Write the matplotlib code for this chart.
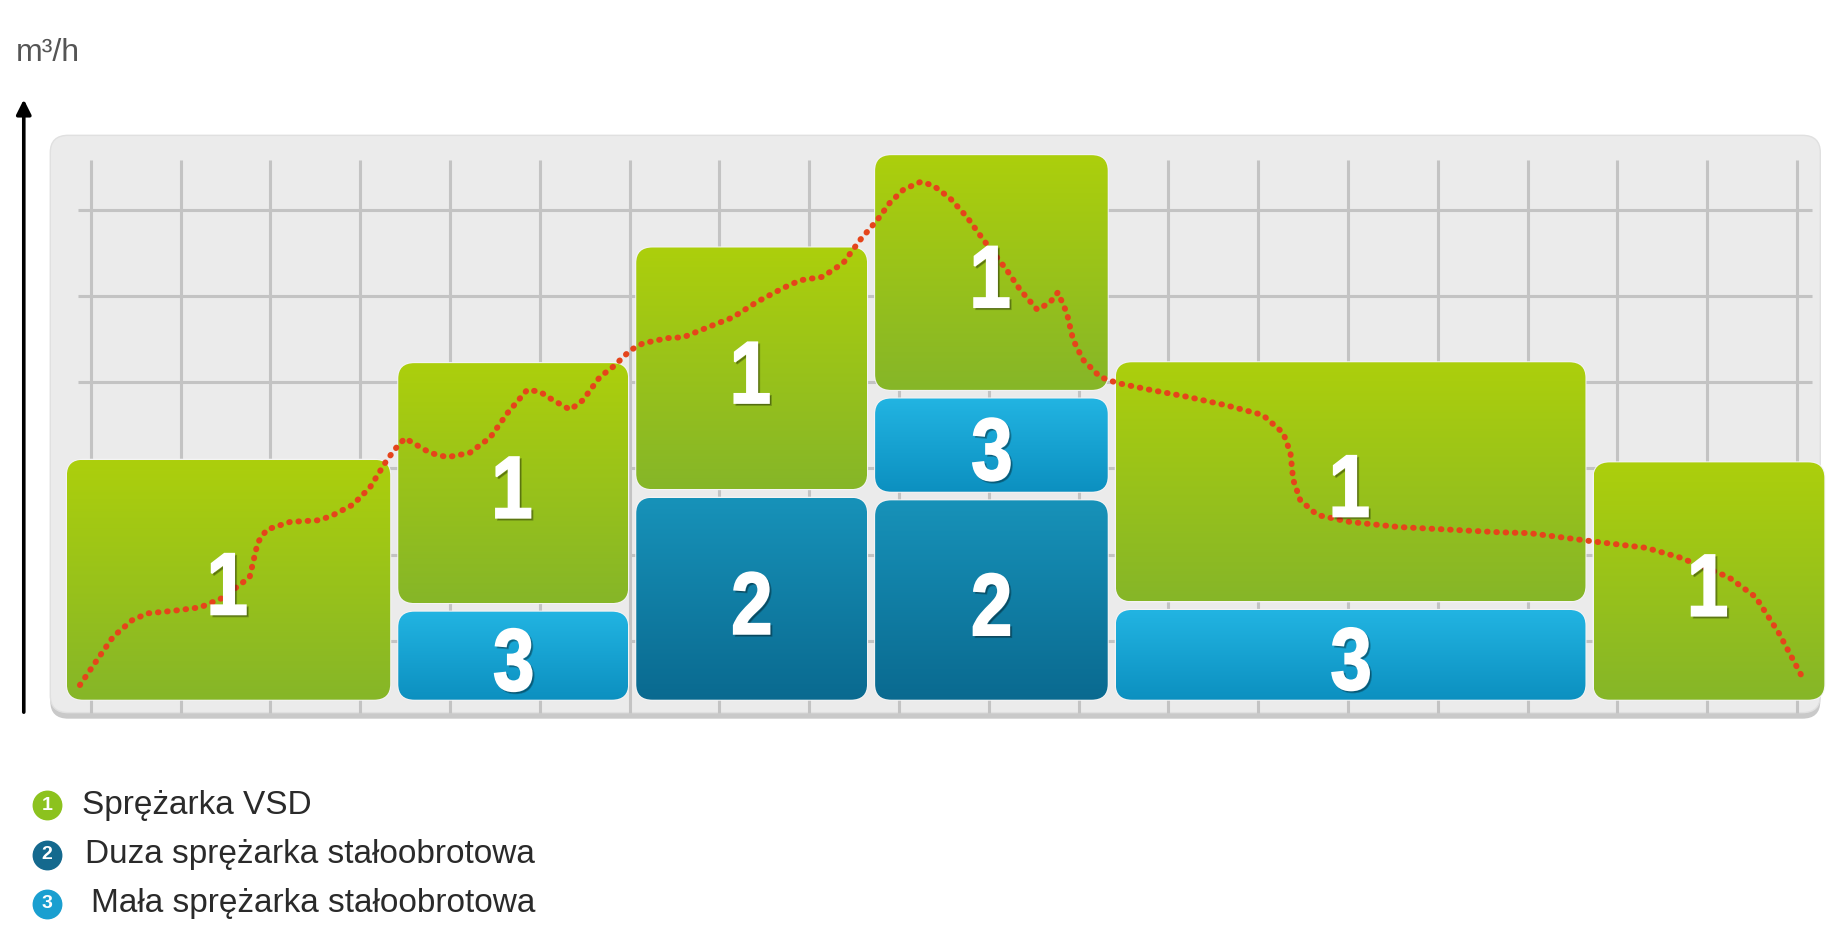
import matplotlib
matplotlib.use("Agg")
import matplotlib.pyplot as plt
import numpy as np
from matplotlib.patches import FancyBboxPatch, PathPatch
from matplotlib.colors import to_rgb
from matplotlib.textpath import TextPath
from matplotlib.font_manager import FontProperties
import matplotlib.transforms as mtransforms

# ---- data (time in grid cells, flow in grid units) ----
seg_start = [-0.31, 3.38, 6.03, 8.69, 11.37, 16.69]
seg_end = [3.38, 6.03, 8.69, 11.37, 16.69, 19.35]
large_fixed = [0, 0, 2.44, 2.41, 0, 0]        # "2"
small_fixed = [0, 1.12, 0, 1.18, 1.14, 0]     # "3"
vsd = [2.88, 2.88, 2.90, 2.82, 2.87, 2.85]    # "1"

demand_t = [-0.12, 0.07, 0.25, 0.46, 0.63, 0.92, 1.22, 1.47, 1.77, 1.86, 1.96, 2.22,
            2.55, 2.70, 2.92, 3.11, 3.30, 3.41, 3.50, 3.78, 3.97, 4.22, 4.45, 4.64,
            4.86, 5.00, 5.15, 5.34, 5.48, 5.67, 5.82, 6.01, 6.15, 6.42, 6.60, 6.93,
            7.15, 7.42, 7.71, 7.90, 8.15, 8.38, 8.57, 8.76, 8.90, 9.05, 9.24, 9.38,
            9.57, 9.76, 9.94, 10.20, 10.35, 10.54, 10.68, 10.77, 10.87, 10.94, 11.05,
            11.24, 11.43, 11.80, 12.21, 12.65, 13.05, 13.28, 13.36, 13.39, 13.47,
            13.66, 14.02, 14.58, 15.14, 15.69, 16.02, 16.76, 17.32, 17.69, 18.24,
            18.54, 18.80, 19.06]
demand_q = [0.22, 0.51, 0.78, 0.97, 1.05, 1.08, 1.12, 1.23, 1.47, 1.87, 2.02, 2.11,
            2.13, 2.19, 2.31, 2.51, 2.83, 2.98, 3.08, 2.91, 2.86, 2.91, 3.09, 3.37,
            3.64, 3.62, 3.52, 3.41, 3.52, 3.79, 3.91, 4.10, 4.18, 4.24, 4.25, 4.39,
            4.48, 4.66, 4.82, 4.91, 4.95, 5.11, 5.38, 5.61, 5.81, 5.96, 6.05, 6.01,
            5.86, 5.64, 5.38, 5.03, 4.80, 4.57, 4.65, 4.77, 4.53, 4.22, 3.99,
            3.79, 3.72, 3.64, 3.56, 3.46, 3.35, 3.14, 2.91, 2.60, 2.36,
            2.19, 2.11, 2.05, 2.02, 1.99, 1.98, 1.88, 1.81, 1.70, 1.47,
            1.24, 0.82, 0.31]

legend_labels = ["Sprężarka VSD", "Duza sprężarka stałoobrotowa", "Mała sprężarka stałoobrotowa"]
legend_nums = ["1", "2", "3"]
unit_label = "m³/h"

# colours (top, bottom) for each compressor type
colors = {
    "1": ("#accf0c", "#86b628"),
    "2": ("#1792b9", "#0a6a90"),
    "3": ("#22b4e2", "#0c90c0"),
}
legend_colors = ["#8cc21e", "#14698e", "#1a9fd0"]

fig = plt.figure(figsize=(18.29, 9.39), dpi=100)
ax = fig.add_axes([0, 0, 1, 1])
ax.axis("off")

# panel background with a soft shadow
shadow = FancyBboxPatch((-0.45, -0.17), 19.71, 6.70, boxstyle="round,pad=0,rounding_size=0.2",
                        facecolor="#c9c9c9", edgecolor="none", zorder=0)
ax.add_patch(shadow)
panel = FancyBboxPatch((-0.45, -0.10), 19.71, 6.69, boxstyle="round,pad=0,rounding_size=0.2",
                       facecolor="#ebebeb", edgecolor="#e0e0e0", lw=1, zorder=0.5)
ax.add_patch(panel)

# grid
ax.vlines(np.arange(0, 20), -0.1, 6.30, colors="#c3c3c3", lw=2.2, zorder=1)
ax.hlines(np.arange(0.73, 6.0, 1.0), -0.14, 19.17, colors="#c3c3c3", lw=2.2, zorder=1)

digit_font = FontProperties(family="Liberation Sans", weight="bold")


def digit(x, y, s):
    tp = TextPath((0, 0), s, size=100, prop=digit_font)
    ext = tp.get_extents()
    cx, cy = (ext.x0 + ext.x1) / 2, (ext.y0 + ext.y1) / 2
    k = 63 / 71.6
    for dx, dy, col, a, z in ((2, -2, "black", 0.25, 5.5), (0, 0, "white", 1, 6)):
        tr = (mtransforms.Affine2D().translate(-cx, -cy).scale(k * 0.84, k).translate(dx, dy)
              + mtransforms.ScaledTranslation(x, y, ax.transData))
        ax.add_patch(PathPatch(tp, transform=tr, facecolor=col, edgecolor=col,
                               lw=1.4, alpha=a, zorder=z))


def block(x0, x1, y0, y1, kind):
    px, py = 0.045, 0.05
    bx0, bx1, by0, by1 = x0 + px, x1 - px, y0 + py, y1 - py
    patch = FancyBboxPatch((bx0, by0), bx1 - bx0, by1 - by0,
                           boxstyle="round,pad=0,rounding_size=0.18",
                           facecolor="none", edgecolor="#f4f4f4", lw=1.5, zorder=2.9)
    ax.add_patch(patch)
    top = np.array(to_rgb(colors[kind][0]))
    bot = np.array(to_rgb(colors[kind][1]))
    g = np.linspace(0, 1, 120)[:, None, None]
    img = top * (1 - g) + bot * g
    im = ax.imshow(img, extent=(bx0, bx1, by0, by1), origin="upper", aspect="auto",
                   interpolation="bilinear", zorder=3)
    im.set_clip_path(patch)
    digit((bx0 + bx1) / 2, (by0 + by1) / 2 - 0.05, kind)


for i in range(len(seg_start)):
    base = 0.0
    for kind, vals in (("2", large_fixed), ("3", small_fixed), ("1", vsd)):
        h = vals[i]
        if h > 0:
            block(seg_start[i], seg_end[i], base, base + h, kind)
            base += h

# demand curve
ax.plot(demand_t, demand_q, color="#e5441b", lw=4.3, linestyle=(0, (0.1, 1.45)),
        dash_capstyle="round", zorder=5)

ax.set_xlim(-1.010, 19.357)
ax.set_ylim(-2.723, 8.158)

# axis arrow and unit
ax.annotate("", xy=(0.0130, 0.897), xytext=(0.0130, 0.2386), xycoords="axes fraction",
            arrowprops=dict(arrowstyle="-|>", lw=2.6, color="black", mutation_scale=22))
ax.text(0.0085, 0.944, unit_label, transform=ax.transAxes, fontsize=23, color="#555555",
        family="Liberation Sans", ha="left", va="center")

# legend
leg_y = [0.1427, 0.0895, 0.0373]
leg_tx = [0.0448, 0.0465, 0.0498]
for num, lab, c, y, tx in zip(legend_nums, legend_labels, legend_colors, leg_y, leg_tx):
    ax.scatter([0.0257], [y], s=420, color=c, transform=ax.transAxes, zorder=5, clip_on=False)
    ax.text(0.0257, y, num, transform=ax.transAxes, color="white", fontsize=14,
            fontweight="bold", ha="center", va="center", zorder=6, family="Liberation Sans")
    ax.text(tx, y, lab, transform=ax.transAxes, fontsize=24, color="#2a2a2a",
            family="Liberation Sans", ha="left", va="center")

fig.savefig("out.png", dpi=100, facecolor="white")
